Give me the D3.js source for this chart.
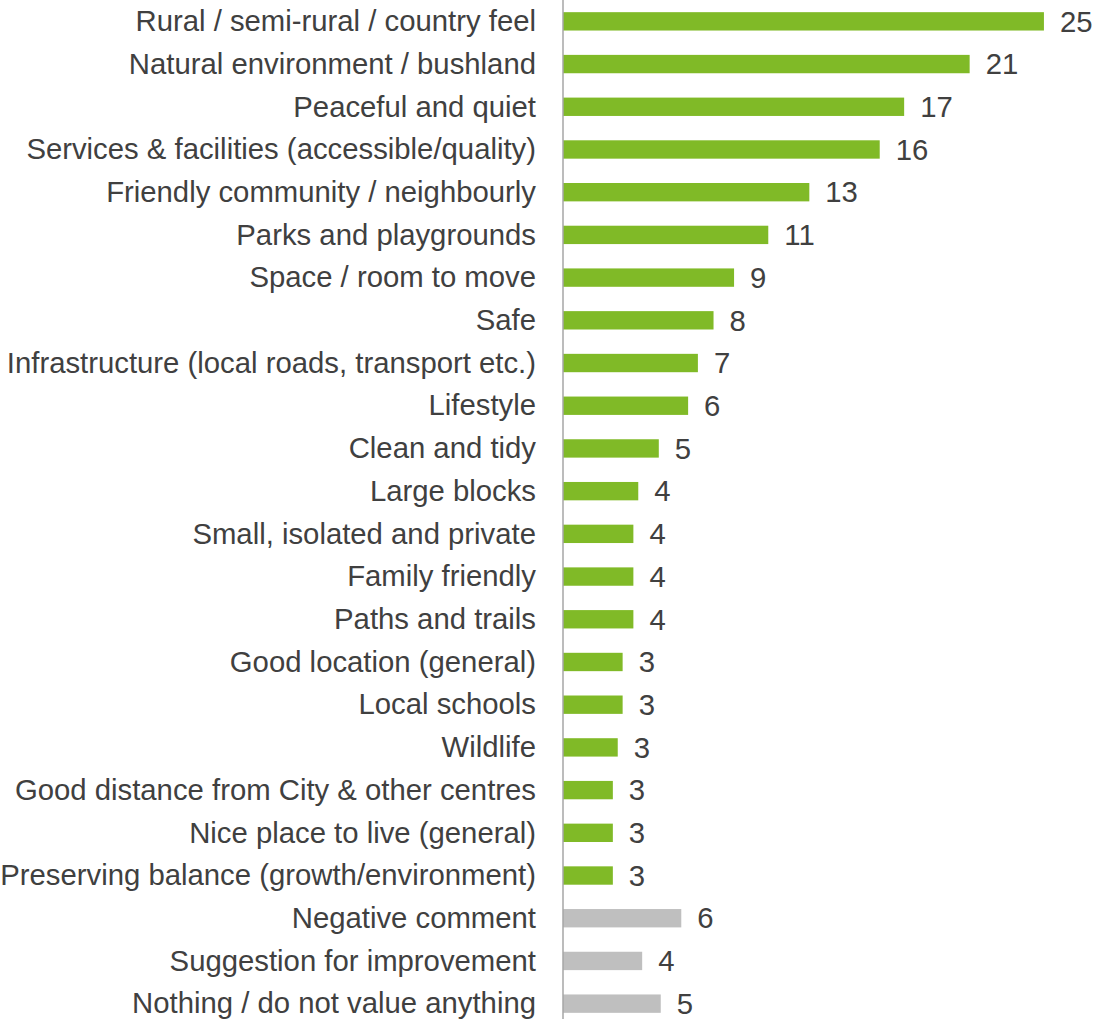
<!DOCTYPE html>
<html>
<head>
<meta charset="utf-8">
<script src="https://cdn.jsdelivr.net/npm/d3@7"></script>
<style>
  body { margin: 0; background: #fff; }
</style>
</head>
<body>
<div id="chart"></div>
<script>
// categories, top to bottom
let categories = [
  'Rural / semi-rural / country feel',
  'Natural environment / bushland',
  'Peaceful and quiet',
  'Services & facilities (accessible/quality)',
  'Friendly community / neighbourly',
  'Parks and playgrounds',
  'Space / room to move',
  'Safe',
  'Infrastructure (local roads, transport etc.)',
  'Lifestyle',
  'Clean and tidy',
  'Large blocks',
  'Small, isolated and private',
  'Family friendly',
  'Paths and trails',
  'Good location (general)',
  'Local schools',
  'Wildlife',
  'Good distance from City & other centres',
  'Nice place to live (general)',
  'Preserving balance (growth/environment)',
  'Negative comment',
  'Suggestion for improvement',
  'Nothing / do not value anything'
]

// percent of respondents (labels shown rounded)
let values = [24.6, 20.8, 17.45, 16.2, 12.6, 10.5, 8.75, 7.7, 6.9, 6.4, 4.9, 3.85, 3.6, 3.6, 3.6,
  3.05, 3.05, 2.8, 2.55, 2.55, 2.55, 6.05, 4.05, 5.0]

// 'pos' = positive attribute, 'other' = other comments
let groups = ['pos','pos','pos','pos','pos','pos','pos','pos','pos','pos','pos','pos','pos','pos','pos',
  'pos','pos','pos','pos','pos','pos','other','other','other']

function createValuesChart(divID){

  d3.select(divID).selectAll('*').remove()

  let data = categories.map((c, i) => ({'name': c, 'value': values[i], 'group': groups[i]}))

  var width = 1094,
      height = 1019,
      axisX = 563

  var color = d3.scaleOrdinal()
    .domain(['pos', 'other'])
    .range(['#80BA27', '#BFBFBF'])

  var x = d3.scaleLinear()
    .domain([0, 25])
    .range([axisX, axisX + 25 * 19.55])

  var y = d3.scaleBand()
    .domain(categories)
    .range([0, 1025])
    .paddingInner(0.57)
    .paddingOuter(0.285)

  var svg = d3.select(divID).append('svg')
    .attr('width', width)
    .attr('height', height)
    .style('font-family', 'Arial, "Liberation Sans", sans-serif')

  svg.selectAll('rect.bar')
    .data(data)
    .enter()
    .append('rect')
    .attr('class', 'bar')
    .attr('x', x(0))
    .attr('y', d => y(d.name))
    .attr('width', d => x(d.value) - x(0))
    .attr('height', y.bandwidth())
    .style('fill', d => color(d.group))

  // vertical axis line
  svg.append('line')
    .attr('x1', axisX)
    .attr('x2', axisX)
    .attr('y1', 0)
    .attr('y2', height)
    .style('stroke', '#A6A6A6')
    .style('stroke-width', 1.5)

  // category labels
  svg.selectAll('text.cat')
    .data(data)
    .enter()
    .append('text')
    .attr('class', 'cat')
    .attr('x', 536)
    .attr('y', d => y(d.name) + y.bandwidth() / 2 - 0.5)
    .attr('dy', '0.35em')
    .style('text-anchor', 'end')
    .style('font-size', '29.3px')
    .style('fill', '#404040')
    .text(d => d.name)

  // value labels
  svg.selectAll('text.val')
    .data(data)
    .enter()
    .append('text')
    .attr('class', 'val')
    .attr('x', d => x(d.value) + 16)
    .attr('y', d => y(d.name) + y.bandwidth() / 2)
    .attr('dy', '0.35em')
    .style('text-anchor', 'start')
    .style('font-size', '29.3px')
    .style('fill', '#404040')
    .text(d => Math.round(d.value))
}

createValuesChart('#chart')
</script>
</body>
</html>
